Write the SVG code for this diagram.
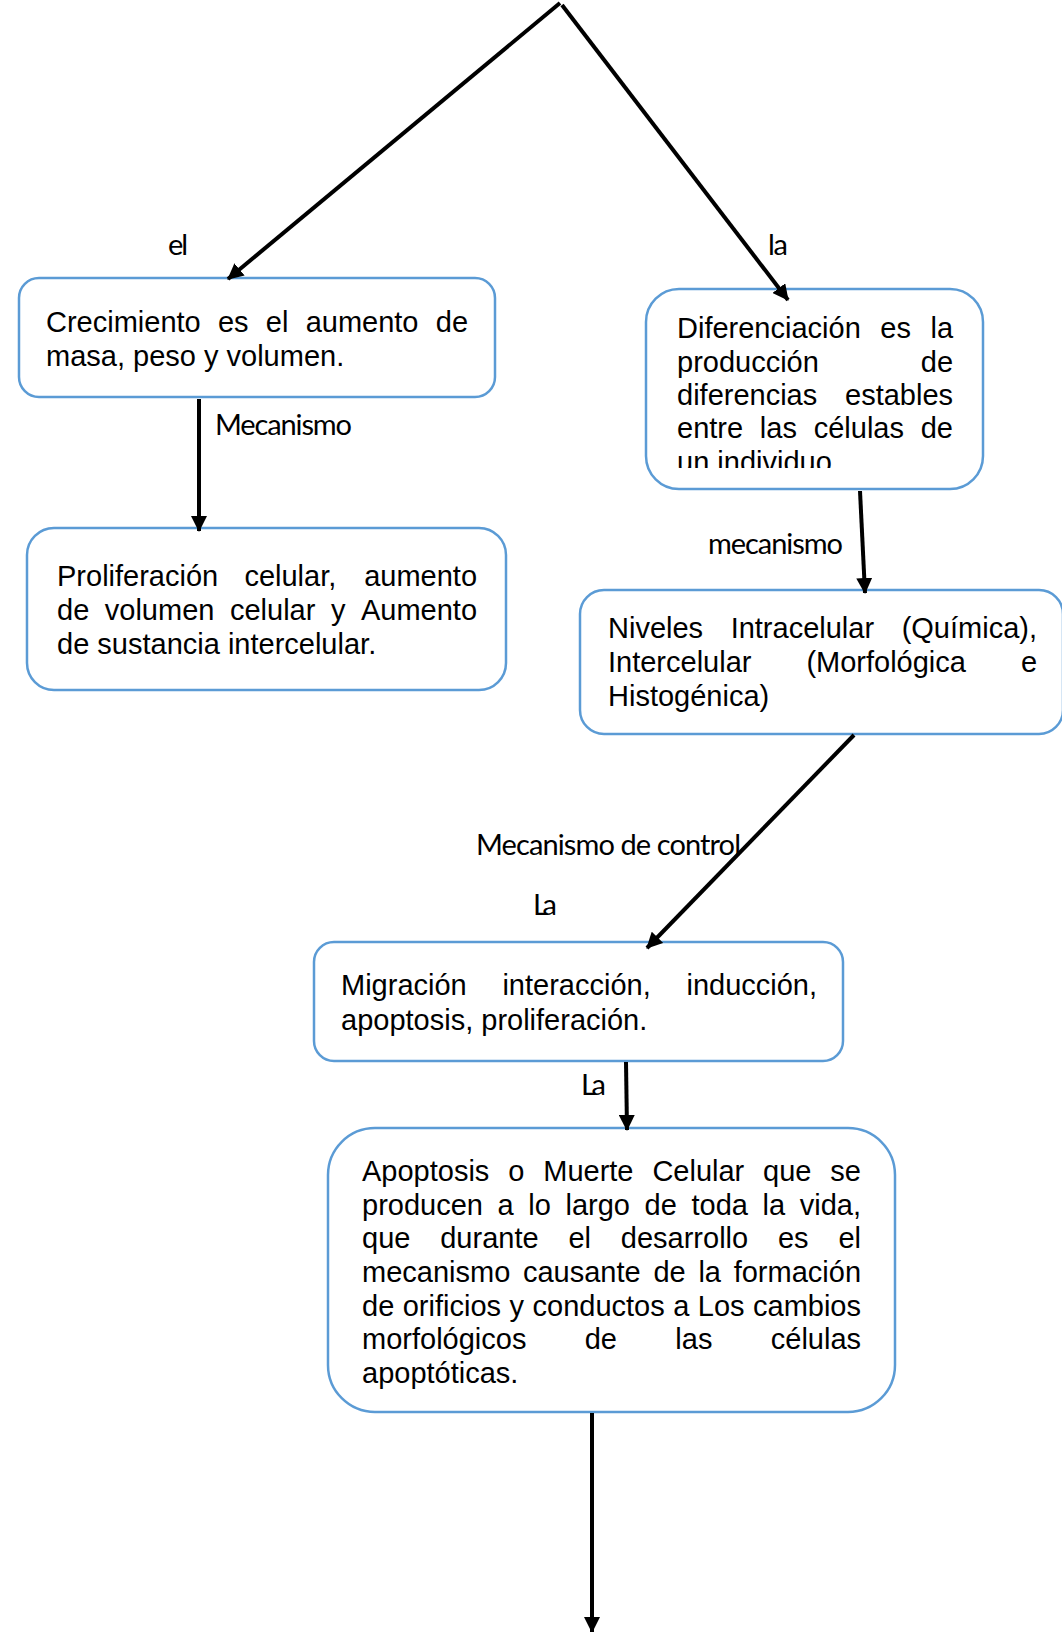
<svg xmlns="http://www.w3.org/2000/svg" width="1062" height="1632" viewBox="0 0 1062 1632">
<style>
.box{fill:#ffffff;stroke:#5B9BD5;stroke-width:2.5}
.t{font-family:"Liberation Sans",Arial,sans-serif;font-size:29px;fill:#000}
.lb{font-family:Lato,"Open Sans",sans-serif;font-size:29px;fill:#000}
.c{stroke:#000;stroke-width:4;fill:none;marker-end:url(#ah)}
</style>
<defs>
<marker id="ah" viewBox="0 0 16 16" refX="15" refY="8" markerWidth="16" markerHeight="16" markerUnits="userSpaceOnUse" orient="auto">
<path d="M0,0 L16,8 L0,16 z" fill="#000"/>
</marker>
<clipPath id="clip2"><rect x="646" y="289" width="337" height="179"/></clipPath>
</defs>

<g id="n1">
<rect class="box" x="19" y="278" width="476" height="119" rx="20" ry="20"/>
<text class="t" y="332"><tspan x="46">Crecimiento</tspan><tspan x="217.95">es</tspan><tspan x="265.83">el</tspan><tspan x="305.65">aumento</tspan><tspan x="435.75">de</tspan></text>
<text class="t" x="46" y="366">masa, peso y volumen.</text>
</g>

<g id="n2">
<rect class="box" x="646" y="289" width="337" height="200" rx="33" ry="33"/>
<g clip-path="url(#clip2)">
<text class="t" y="338"><tspan x="677">Diferenciación</tspan><tspan x="880.27">es</tspan><tspan x="930.44">la</tspan></text>
<text class="t" y="372"><tspan x="677">producción</tspan><tspan x="920.75">de</tspan></text>
<text class="t" y="405"><tspan x="677">diferencias</tspan><tspan x="845">estables</tspan></text>
<text class="t" y="438"><tspan x="677">entre</tspan><tspan x="759.87">las</tspan><tspan x="813.71">células</tspan><tspan x="920.74">de</tspan></text>
<text class="t" x="677" y="472">un individuo.</text>
</g>
</g>

<g id="n3">
<rect class="box" x="27" y="528" width="479" height="162" rx="27" ry="27"/>
<text class="t" y="586"><tspan x="57">Proliferación</tspan><tspan x="244.42">celular,</tspan><tspan x="364.16">aumento</tspan></text>
<text class="t" y="620"><tspan x="57">de</tspan><tspan x="104.8">volumen</tspan><tspan x="229.94">celular</tspan><tspan x="330.9">y</tspan><tspan x="360.95">Aumento</tspan></text>
<text class="t" x="57" y="654">de sustancia intercelular.</text>
</g>

<g id="n4">
<rect class="box" x="580" y="590" width="483" height="144" rx="24" ry="24"/>
<text class="t" y="638"><tspan x="608">Niveles</tspan><tspan x="730.64">Intracelular</tspan><tspan x="901.65">(Química),</tspan></text>
<text class="t" y="672"><tspan x="608">Intercelular</tspan><tspan x="806.39">(Morfológica</tspan><tspan x="1020.88">e</tspan></text>
<text class="t" x="608" y="706">Histogénica)</text>
</g>

<g id="n5">
<rect class="box" x="314" y="942" width="529" height="119" rx="20" ry="20"/>
<text class="t" y="995"><tspan x="341">Migración</tspan><tspan x="502.43">interacción,</tspan><tspan x="686.45">inducción,</tspan></text>
<text class="t" x="341" y="1030">apoptosis, proliferación.</text>
</g>

<g id="n6">
<rect class="box" x="328" y="1128" width="567" height="284" rx="47" ry="47"/>
<text class="t" y="1181"><tspan x="362">Apoptosis</tspan><tspan x="508.23">o</tspan><tspan x="543.24">Muerte</tspan><tspan x="652.38">Celular</tspan><tspan x="763.11">que</tspan><tspan x="830.37">se</tspan></text>
<text class="t" y="1215"><tspan x="362">producen</tspan><tspan x="497.54">a</tspan><tspan x="528.3">lo</tspan><tspan x="565.5">largo</tspan><tspan x="644.61">de</tspan><tspan x="691.5">toda</tspan><tspan x="762.57">la</tspan><tspan x="799.77">vida,</tspan></text>
<text class="t" y="1248"><tspan x="362">que</tspan><tspan x="440.22">durante</tspan><tspan x="568.41">el</tspan><tspan x="620.82">desarrollo</tspan><tspan x="777.98">es</tspan><tspan x="838.45">el</tspan></text>
<text class="t" y="1282"><tspan x="362">mecanismo</tspan><tspan x="522.99">causante</tspan><tspan x="653.41">de</tspan><tspan x="698.4">la</tspan><tspan x="733.7">formación</tspan></text>
<text class="t" y="1316"><tspan x="362">de</tspan><tspan x="402.74">orificios</tspan><tspan x="509.51">y</tspan><tspan x="532.5">conductos</tspan><tspan x="673.17">a</tspan><tspan x="697.78">Los</tspan><tspan x="753.02">cambios</tspan></text>
<text class="t" y="1349"><tspan x="362">morfológicos</tspan><tspan x="584.73">de</tspan><tspan x="675.34">las</tspan><tspan x="770.76">células</tspan></text>
<text class="t" x="362" y="1383">apoptóticas.</text>
</g>

<g id="connectors">
<path class="c" d="M560,3 L228,279"/>
<path class="c" d="M562,5 L788,300"/>
<path class="c" d="M199,399 L199,531"/>
<path class="c" d="M860,491 L865,593"/>
<path class="c" d="M854,735 L647,948"/>
<path class="c" d="M626,1062 L627,1130"/>
<path class="c" d="M592,1413 L592,1632"/>
<text class="lb" x="168" y="255" textLength="20">el</text>
<text class="lb" x="768" y="255" textLength="20">la</text>
<text class="lb" x="215" y="435" textLength="137">Mecanismo</text>
<text class="lb" x="708" y="554" textLength="135">mecanismo</text>
<text class="lb" x="476" y="855" textLength="265">Mecanismo de control</text>
<text class="lb" x="533" y="915" textLength="24">La</text>
<text class="lb" x="581" y="1095" textLength="25">La</text>
</g>
</svg>
